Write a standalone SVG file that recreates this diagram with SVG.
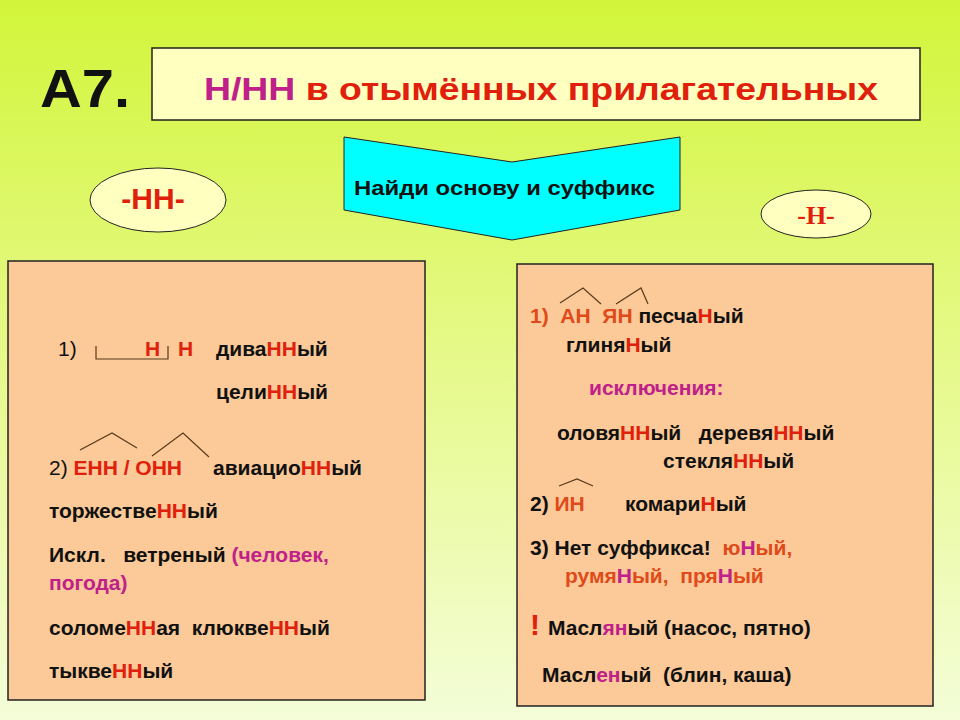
<svg xmlns="http://www.w3.org/2000/svg" width="960" height="720" viewBox="0 0 960 720">
<defs>
<linearGradient id="bg" x1="0" y1="0" x2="0" y2="1">
<stop offset="0" stop-color="#d2f53a"/><stop offset="0.5" stop-color="#e6f98a"/><stop offset="1" stop-color="#f4fdd8"/>
</linearGradient>
</defs>
<style>
text{font-family:"Liberation Sans",Arial,sans-serif;font-weight:bold;font-size:21px;fill:#111;white-space:pre}
.r{fill:#e0200c}.m{fill:#c0208a}.o{fill:#e04a1a}
.box{fill:#fbca98;stroke:#222;stroke-width:1.5}
.ln{fill:none;stroke:#5a3a1a;stroke-width:1.2}
</style>
<rect width="960" height="720" fill="url(#bg)"/>
<g id="a7"><text x="40" y="107" style="font-size:54px" textLength="90" lengthAdjust="spacingAndGlyphs">А7.</text></g>
<g id="title"><rect x="152" y="48" width="768" height="72" fill="#ffffc0" stroke="#222" stroke-width="1.5"/>
<text x="204" y="100" style="font-size:32px" textLength="674" lengthAdjust="spacingAndGlyphs"><tspan class="m">Н/НН</tspan><tspan class="r"> в отымённых прилагательных</tspan></text></g>
<g id="chevron"><polygon points="344,137 512,162 680,137 680,210 512,240 344,210" fill="#00ffff" stroke="#222" stroke-width="1"/>
<text x="354" y="195" style="font-size:20px" textLength="301" lengthAdjust="spacingAndGlyphs">Найди основу и суффикс</text></g>
<g id="nn"><ellipse cx="158" cy="200" rx="68" ry="32" fill="#ffffc0" stroke="#222"/><text x="153" y="209" text-anchor="middle" class="r" style="font-size:30px">-НН-</text></g>
<g id="n"><ellipse cx="816" cy="214" rx="55" ry="24" fill="#ffffc0" stroke="#222"/><text x="816" y="224" text-anchor="middle" class="r" style="font-size:26px;font-family:'Liberation Serif',serif">-Н-</text></g>
<g id="left"><rect class="box" x="8" y="261" width="417" height="439"/>
<text x="58" y="356" style="font-weight:normal">1)</text>
<path class="ln" d="M96,346 V359 H168 V346" stroke="#222"/>
<text x="145" y="356" class="r">Н</text><text x="178" y="356" class="r">Н</text>
<text x="216" y="356">дива<tspan class="r">НН</tspan>ый</text>
<text x="216" y="399">цели<tspan class="r">НН</tspan>ый</text>
<path class="ln" d="M80,450 L112,433 L137,448 M152,456 L183,433 L209,457"/>
<text x="49" y="475" style="font-weight:normal">2)<tspan style="font-weight:bold" class="r"> ЕНН / ОНН</tspan></text>
<text x="213" y="475">авиацио<tspan class="r">НН</tspan>ый</text>
<text x="49" y="518">торжестве<tspan class="r">НН</tspan>ый</text>
<text x="49" y="562">Искл.   ветреный <tspan class="m">(человек,</tspan></text>
<text x="49" y="590" class="m">погода)</text>
<text x="49" y="635">соломе<tspan class="r">НН</tspan>ая  клюкве<tspan class="r">НН</tspan>ый</text>
<text x="49" y="678">тыкве<tspan class="r">НН</tspan>ый</text></g>
<g id="right"><rect class="box" x="517" y="264" width="416" height="442"/>
<path class="ln" d="M560,303 L583,288 L601,304 M616,304 L641,288 L648,304 M559,486 L577,479 L593,486"/>
<text x="530" y="323" class="o">1)  АН  ЯН <tspan style="fill:#111">песча</tspan><tspan class="r">Н</tspan><tspan style="fill:#111">ый</tspan></text>
<text x="566" y="352">глиня<tspan class="r">Н</tspan>ый</text>
<text x="589" y="395" class="m">исключения:</text>
<text x="557" y="440">оловя<tspan class="r">НН</tspan>ый   деревя<tspan class="r">НН</tspan>ый</text>
<text x="663" y="468">стекля<tspan class="r">НН</tspan>ый</text>
<text x="530" y="511">2) <tspan class="o">ИН</tspan></text>
<text x="625" y="511">комари<tspan class="r">Н</tspan>ый</text>
<text x="530" y="555">3) Нет суффикса!  <tspan class="o">ю</tspan><tspan class="m">Н</tspan><tspan class="o">ый,</tspan></text>
<text x="565" y="583" class="o">румя<tspan class="m">Н</tspan>ый,  пря<tspan class="m">Н</tspan>ый</text>
<text x="530" y="635" class="r" style="font-size:30px">!</text>
<text x="548" y="635">Масл<tspan class="m">ян</tspan>ый (насос, пятно)</text>
<text x="542" y="682">Масл<tspan class="m">ен</tspan>ый  (блин, каша)</text></g>
</svg>
